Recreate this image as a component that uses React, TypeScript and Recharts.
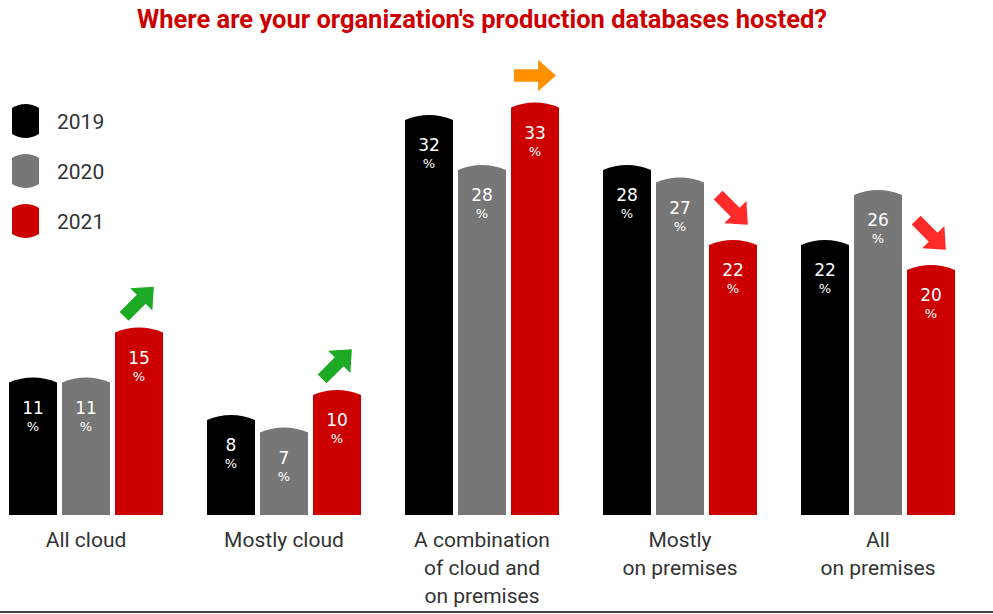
import { BarChart, Bar, XAxis, YAxis, LabelList } from 'recharts';

const categories = ['All cloud', 'Mostly cloud', 'A combination\nof cloud and\non premises', 'Mostly\non premises', 'All\non premises'];
const years = ['2019', '2020', '2021'];
const values2019 = [11, 8, 32, 28, 22];
const values2020 = [11, 7, 28, 27, 26];
const values2021 = [15, 10, 33, 22, 20];
const trend2021 = ['up', 'up', 'flat', 'down', 'down'];

const COLORS = ['#000000', '#777777', '#cc0000'];
const ARROW_COLORS: Record<string, string> = { up: '#1eaa24', flat: '#ff9000', down: '#ff2b2b' };
const TEXT = '#333333';

const data = categories.map((name, i) => ({
  name,
  y2019: values2019[i],
  y2020: values2020[i],
  y2021: values2021[i],
  trend: trend2021[i],
}));

const CAP = 5;

function capPath(x: number, y: number, w: number, h: number) {
  return `M${x},${y + h} L${x},${y + CAP} Q${x + w / 2},${y - CAP} ${x + w},${y + CAP} L${x + w},${y + h} Z`;
}

function CapBar(props: any) {
  const { x, y, width, height, fill } = props;
  if (!height) return null;
  return <path d={capPath(x, y, width, height)} fill={fill} />;
}

// arrow pointing right, centred on 0,0, rotated by trend
const ARROW = 'M-20,-6 L3,-6 L3,-15 L20,0 L3,15 L3,6 L-20,6 Z';

function TrendBar(props: any) {
  const { x, y, width, height, fill, index } = props;
  const trend = trend2021[index];
  const rot = trend === 'up' ? -45 : trend === 'down' ? 45 : 0;
  const cx = x + width / 2;
  const cy = y - (trend === 'flat' ? 27 : trend === 'up' ? 26 : 30);
  return (
    <g>
      <path d={capPath(x, y, width, height)} fill={fill} />
      <path d={ARROW} fill={ARROW_COLORS[trend]} transform={`translate(${cx},${cy}) rotate(${rot}) scale(1.05)`} />
    </g>
  );
}

function ValueLabel(props: any) {
  const { x, y, width, value } = props;
  const cx = x + width / 2;
  return (
    <g fill="#ffffff" fontFamily="'DejaVu Sans', sans-serif" textAnchor="middle">
      <text x={cx} y={y + 36} fontSize={17}>{value}</text>
      <text x={cx} y={y + 53} fontSize={13}>%</text>
    </g>
  );
}

function CategoryTick(props: any) {
  const { x, y, payload } = props;
  const lines = String(payload.value).split('\n');
  return (
    <g>
      {lines.map((line, i) => (
        <text key={i} x={x} y={y + 30 + i * 28} textAnchor="middle" fill={TEXT} fontSize={21} fontFamily="Roboto, sans-serif">
          {line}
        </text>
      ))}
    </g>
  );
}

function LegendBox() {
  return (
    <svg width={130} height={150} style={{ position: 'absolute', left: 0, top: 96 }}>
      {years.map((yr, i) => {
        const top = 8 + i * 50;
        const d = `M12,${top + 4} Q25.5,${top - 4} 39,${top + 4} L39,${top + 30} Q25.5,${top + 38} 12,${top + 30} Z`;
        return (
          <g key={yr}>
            <path d={d} fill={COLORS[i]} />
            <text x={57} y={top + 25} fontSize={21} fill={TEXT} fontFamily="Roboto, sans-serif">{yr}</text>
          </g>
        );
      })}
    </svg>
  );
}

export default function App() {
  return (
    <div style={{ position: 'absolute', left: 0, top: 0, width: 993, height: 614, overflow: 'hidden', background: '#fff' }}>
      <div
        style={{
          position: 'absolute', left: 0, top: 4, width: 964, textAlign: 'center',
          color: '#cc0000', fontFamily: 'Roboto, sans-serif', fontWeight: 'bold', fontSize: 25.5,
        }}
      >
        Where are your organization's production databases hosted?
      </div>
      <div style={{ position: 'absolute', left: -13, top: 0 }}>
        <BarChart width={1006} height={614} data={data} margin={{ top: 15, right: 16, left: 0, bottom: 9 }} barSize={48} barGap={5}>
          <XAxis dataKey="name" axisLine={false} tickLine={false} tickSize={0} height={90} tick={<CategoryTick />} interval={0} />
          <YAxis hide domain={[0, 40]} />
          <Bar dataKey="y2019" fill={COLORS[0]} shape={<CapBar />} isAnimationActive={false}>
            <LabelList dataKey="y2019" content={<ValueLabel />} />
          </Bar>
          <Bar dataKey="y2020" fill={COLORS[1]} shape={<CapBar />} isAnimationActive={false}>
            <LabelList dataKey="y2020" content={<ValueLabel />} />
          </Bar>
          <Bar dataKey="y2021" fill={COLORS[2]} shape={<TrendBar />} isAnimationActive={false}>
            <LabelList dataKey="y2021" content={<ValueLabel />} />
          </Bar>
        </BarChart>
      </div>
      <LegendBox />
      <div style={{ position: 'absolute', left: 0, top: 611, width: 993, height: 2, background: '#444' }} />
    </div>
  );
}
